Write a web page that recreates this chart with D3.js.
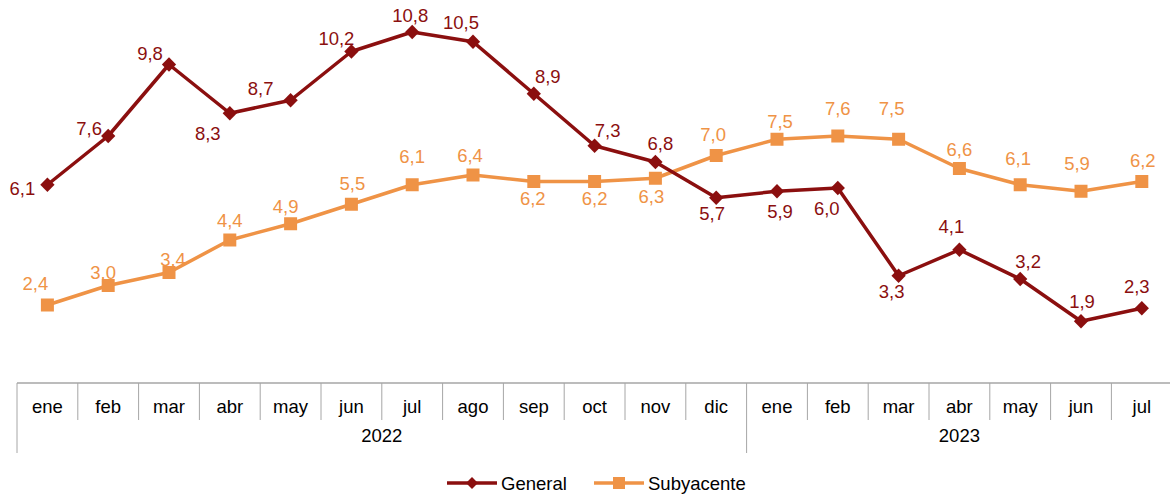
<!DOCTYPE html>
<html>
<head>
<meta charset="utf-8">
<script src="https://cdn.jsdelivr.net/npm/d3@7"></script>
<style>
  body { margin: 0; background: #fff; }
  text { font-family: "Liberation Sans", Arial, sans-serif; }
</style>
</head>
<body>
<script>
// months and years on the axis
const months = ["ene","feb","mar","abr","may","jun","jul","ago","sep","oct","nov","dic",
                "ene","feb","mar","abr","may","jun","jul"];
const years = [{ label: "2022", n: 12 }, { label: "2023", n: 7 }];

// series values
const general    = [6.1, 7.6, 9.8, 8.3, 8.7, 10.2, 10.8, 10.5, 8.9, 7.3, 6.8, 5.7, 5.9, 6.0, 3.3, 4.1, 3.2, 1.9, 2.3];
const subyacente = [2.4, 3.0, 3.4, 4.4, 4.9, 5.5, 6.1, 6.4, 6.2, 6.2, 6.3, 7.0, 7.5, 7.6, 7.5, 6.6, 6.1, 5.9, 6.2];

// label nudges (dx, dy from the point) as they were placed by hand in the original
const offGeneral = [[-25,10],[-19,-1],[-19,-5],[-22,27],[-30,-5],[-15,-7],[-2,-10],[-12,-13],[14,-11],[13,-9],
                    [5,-12],[-4,22],[3,27],[-11,27],[-7,22],[-8,-17],[8,-11],[1,-13],[-5,-15]];
const offSub = [[-12,-15],[-5,-7],[4,-7],[0,-13],[-5,-11],[1,-14],[0,-22],[-3,-13],[-1,23],[0,23],
                [-4,25],[-3,-15],[3,-11],[0,-21],[-7,-24],[0,-13],[-2,-20],[-4,-21],[1,-15]];

const width = 1170, height = 495;
const colGeneral = "#8b0f0f", colSub = "#ef9346", gridCol = "#a6a6a6";
const fs = 18.5;

const svg = d3.select("body").append("svg")
    .attr("width", width)
    .attr("height", height);

const x = d3.scaleBand()
    .domain(d3.range(months.length))
    .range([17, 17 + 60.8 * months.length])
    .padding(0);

const y = d3.scaleLinear()
    .domain([0, 12])
    .range([383, -7]);

const fmt = d3.formatLocale({ decimal: ",", thousands: ".", grouping: [3], currency: ["", "€"] }).format(".1f");
const cx = i => x(i) + x.bandwidth() / 2;

// ---- category table under the plot
const axisTop = 383, monthBottom = 420, tableBottom = 453;
const tbl = svg.append("g");
tbl.append("line")
    .attr("x1", x.range()[0]).attr("x2", x.range()[1])
    .attr("y1", axisTop).attr("y2", axisTop)
    .attr("stroke", gridCol).attr("stroke-width", 1.5);

// year boundaries
let start = 0;
const yearStarts = [];
years.forEach(yr => { yearStarts.push(start); start += yr.n; });
yearStarts.push(months.length);

tbl.selectAll(".mdiv")
    .data(d3.range(months.length + 1).filter(i => !yearStarts.includes(i)))
    .enter().append("line")
    .attr("x1", i => i < months.length ? x(i) : x.range()[1])
    .attr("x2", i => i < months.length ? x(i) : x.range()[1])
    .attr("y1", axisTop).attr("y2", monthBottom)
    .attr("stroke", gridCol).attr("stroke-width", 1);

tbl.selectAll(".ydiv")
    .data(yearStarts)
    .enter().append("line")
    .attr("x1", i => i < months.length ? x(i) : x.range()[1])
    .attr("x2", i => i < months.length ? x(i) : x.range()[1])
    .attr("y1", axisTop).attr("y2", tableBottom)
    .attr("stroke", gridCol).attr("stroke-width", 1);

tbl.selectAll(".mlab")
    .data(months)
    .enter().append("text")
    .attr("x", (d, i) => cx(i))
    .attr("y", 413)
    .attr("text-anchor", "middle")
    .attr("font-size", fs)
    .attr("fill", "#000")
    .text(d => d);

tbl.selectAll(".ylab")
    .data(years)
    .enter().append("text")
    .attr("x", (d, i) => (x(yearStarts[i]) + x(yearStarts[i] + d.n - 1) + x.bandwidth()) / 2)
    .attr("y", 442)
    .attr("text-anchor", "middle")
    .attr("font-size", fs)
    .attr("fill", "#000")
    .text(d => d.label);

// ---- lines
const line = d3.line()
    .x((d, i) => cx(i))
    .y(d => y(d));

svg.append("path")
    .datum(subyacente)
    .attr("d", line)
    .attr("fill", "none")
    .attr("stroke", colSub)
    .attr("stroke-width", 3.5)
    .attr("stroke-linejoin", "round");

svg.append("path")
    .datum(general)
    .attr("d", line)
    .attr("fill", "none")
    .attr("stroke", colGeneral)
    .attr("stroke-width", 3.5)
    .attr("stroke-linejoin", "round");

// markers
svg.append("g").selectAll("rect")
    .data(subyacente)
    .enter().append("rect")
    .attr("x", (d, i) => cx(i) - 6.5)
    .attr("y", d => y(d) - 6.5)
    .attr("width", 13).attr("height", 13)
    .attr("fill", colSub);

const diamond = d3.symbol().type(d3.symbolDiamond2).size(130);
svg.append("g").selectAll("path")
    .data(general)
    .enter().append("path")
    .attr("d", diamond)
    .attr("transform", (d, i) => `translate(${cx(i)},${y(d)})`)
    .attr("fill", colGeneral);

// ---- data labels
svg.append("g").selectAll("text")
    .data(subyacente)
    .enter().append("text")
    .attr("x", (d, i) => cx(i) + offSub[i][0])
    .attr("y", (d, i) => y(d) + offSub[i][1])
    .attr("text-anchor", "middle")
    .attr("font-size", fs)
    .attr("fill", colSub)
    .text(d => fmt(d));

svg.append("g").selectAll("text")
    .data(general)
    .enter().append("text")
    .attr("x", (d, i) => cx(i) + offGeneral[i][0])
    .attr("y", (d, i) => y(d) + offGeneral[i][1])
    .attr("text-anchor", "middle")
    .attr("font-size", fs)
    .attr("fill", colGeneral)
    .text(d => fmt(d));

// ---- legend
const legend = svg.append("g");
const items = [
    { name: "General", color: colGeneral, x0: 447, mark: "diamond" },
    { name: "Subyacente", color: colSub, x0: 594, mark: "square" }
];
const ly = 483;
items.forEach(it => {
    legend.append("line")
        .attr("x1", it.x0).attr("x2", it.x0 + 50)
        .attr("y1", ly).attr("y2", ly)
        .attr("stroke", it.color).attr("stroke-width", 3.5);
    if (it.mark === "diamond") {
        legend.append("path")
            .attr("d", d3.symbol().type(d3.symbolDiamond2).size(90))
            .attr("transform", `translate(${it.x0 + 25},${ly})`)
            .attr("fill", it.color);
    } else {
        legend.append("rect")
            .attr("x", it.x0 + 19).attr("y", ly - 6)
            .attr("width", 12).attr("height", 12)
            .attr("fill", it.color);
    }
    legend.append("text")
        .attr("x", it.x0 + 54)
        .attr("y", ly + 6.5)
        .attr("font-size", fs)
        .attr("fill", "#000")
        .text(it.name);
});
</script>
</body>
</html>
